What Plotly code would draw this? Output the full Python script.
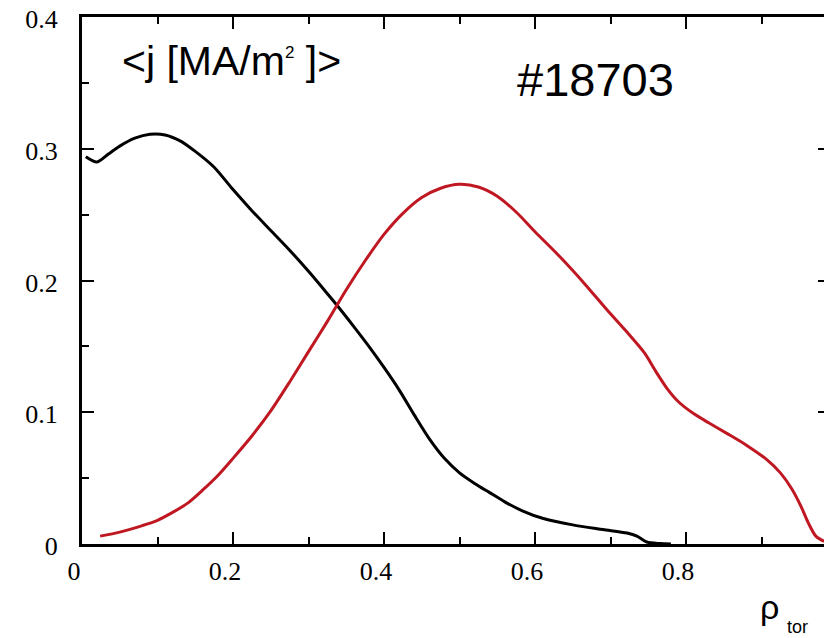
import plotly.graph_objects as go

# black curve <j> (total)
black_x = [0.005, 0.02, 0.035, 0.05, 0.07, 0.09, 0.11, 0.13, 0.15, 0.175, 0.2, 0.225,
           0.25, 0.275, 0.3, 0.325, 0.338, 0.36, 0.38, 0.40, 0.42, 0.44, 0.461, 0.48,
           0.50, 0.52, 0.54, 0.56, 0.584, 0.61, 0.65, 0.69, 0.722, 0.735, 0.748, 0.765, 0.78]
black_y = [0.294, 0.290, 0.296, 0.302, 0.308, 0.311, 0.3105, 0.306, 0.298, 0.286, 0.269, 0.253,
           0.238, 0.223, 0.207, 0.190, 0.181, 0.165, 0.150, 0.134, 0.117, 0.098, 0.079, 0.065,
           0.054, 0.046, 0.039, 0.032, 0.025, 0.0195, 0.0145, 0.011, 0.0083, 0.006, 0.0015, 0.0003, 0.0]

# red curve
red_x = [0.024, 0.05, 0.08, 0.10, 0.12, 0.14, 0.16, 0.18, 0.20, 0.225, 0.25, 0.275, 0.30,
         0.325, 0.35, 0.375, 0.40, 0.425, 0.45, 0.475, 0.50, 0.525, 0.55, 0.575, 0.60,
         0.633, 0.665, 0.695, 0.72, 0.745, 0.76, 0.775, 0.79, 0.81, 0.83, 0.854, 0.88,
         0.907, 0.925, 0.94, 0.952, 0.962, 0.972, 0.983]
red_y = [0.006, 0.009, 0.014, 0.018, 0.024, 0.031, 0.041, 0.052, 0.065, 0.082, 0.101, 0.123, 0.146,
         0.169, 0.193, 0.215, 0.235, 0.251, 0.263, 0.270, 0.273, 0.271, 0.264, 0.252, 0.237,
         0.218, 0.198, 0.178, 0.162, 0.145, 0.131, 0.118, 0.108, 0.099, 0.092, 0.084, 0.075,
         0.064, 0.054, 0.042, 0.029, 0.016, 0.006, 0.002]

x_ticks = [0, 0.2, 0.4, 0.6, 0.8]
x_labels = ["0", "0.2", "0.4", "0.6", "0.8"]
y_ticks = [0, 0.1, 0.2, 0.3, 0.4]
y_labels = ["0", "0.1", "0.2", "0.3", "0.4"]

fig = go.Figure()
fig.add_trace(go.Scatter(x=black_x, y=black_y, mode="lines",
                         line=dict(color="#000000", width=3, shape="spline", smoothing=0.8),
                         showlegend=False))
fig.add_trace(go.Scatter(x=red_x, y=red_y, mode="lines",
                         line=dict(color="#c01822", width=3, shape="spline", smoothing=0.8),
                         showlegend=False))
# trace on right axis (for right-side ticks)
fig.add_trace(go.Scatter(x=[0.5], y=[0.2], yaxis="y2", mode="markers",
                         marker=dict(size=1, opacity=0), showlegend=False, hoverinfo="skip"))

tickfont = dict(family="Liberation Serif", size=26, color="#000000")

fig.update_layout(
    width=824, height=638,
    margin=dict(l=82, r=0, t=17, b=94),
    paper_bgcolor="white", plot_bgcolor="white",
    xaxis=dict(range=[0, 742 / 755], showgrid=False, zeroline=False,
               showline=True, linecolor="black", linewidth=3, mirror="ticks",
               ticks="inside", ticklen=12, tickwidth=2, tickcolor="black",
               tickvals=x_ticks, ticktext=x_labels, tickfont=tickfont,
               ticklabelstandoff=2, ticklabelshift=-8,
               minor=dict(ticks="inside", ticklen=7, tickwidth=2, tickcolor="black", dtick=0.1)),
    yaxis=dict(range=[0, 0.4], showgrid=False, zeroline=False,
               showline=True, linecolor="black", linewidth=3,
               ticks="inside", ticklen=12, tickwidth=2, tickcolor="black",
               tickvals=y_ticks, ticktext=y_labels, tickfont=tickfont,
               ticklabelstandoff=16, ticklabelshift=2, ticklabeloverflow="allow",
               minor=dict(ticks="inside", ticklen=7, tickwidth=2, tickcolor="black", dtick=0.05)),
    yaxis2=dict(range=[0, 0.4], overlaying="y", side="right", anchor="x",
                showgrid=False, zeroline=False, showline=False,
                ticks="inside", ticklen=6, tickwidth=2, tickcolor="black",
                tickvals=[0.1, 0.2, 0.3], showticklabels=False),
)

fig.add_annotation(x=829, y=568, xref="paper", yref="paper", text="1", showarrow=False,
                   xanchor="center", yanchor="middle", font=tickfont)
fig.add_annotation(x=120, y=61, xref="paper", yref="paper",
                   text="<j [MA/m<sup><span style='font-size:17px'>2</span></sup> ]>",
                   showarrow=False, xanchor="left", yanchor="middle",
                   font=dict(family="Liberation Sans", size=41, color="black"))
fig.add_annotation(x=515, y=79, xref="paper", yref="paper", text="#18703",
                   showarrow=False, xanchor="left", yanchor="middle",
                   font=dict(family="Liberation Sans", size=47, color="black"))
fig.add_annotation(x=769, y=607, xref="paper", yref="paper", text="ρ",
                   showarrow=False, xanchor="center", yanchor="middle",
                   font=dict(family="Liberation Sans", size=34, color="black"))
fig.add_annotation(x=797, y=627, xref="paper", yref="paper", text="tor",
                   showarrow=False, xanchor="center", yanchor="middle",
                   font=dict(family="Liberation Sans", size=18, color="black"))

# convert pixel-based paper annotations
W_plot = 824 - 82
H_plot = 638 - 17 - 94
for ann in fig.layout.annotations:
    if ann.xref == "paper":
        ann.x = (ann.x - 82) / W_plot
        ann.y = (638 - 94 - ann.y) / H_plot

fig.write_html("out.html")
